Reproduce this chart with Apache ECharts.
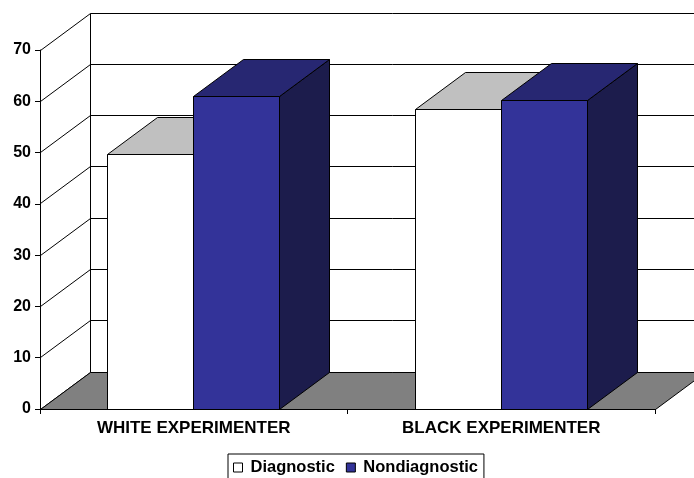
<!DOCTYPE html>
<html>
<head>
<meta charset="utf-8">
<script src="https://cdn.jsdelivr.net/npm/echarts@6/dist/echarts.min.js"></script>
<style>
  html, body { margin: 0; padding: 0; background: #fff; }
  #chart { width: 694px; height: 478px; }
</style>
</head>
<body>
<div id="chart"></div>
<script>
// Chart data
const categories = ['WHITE EXPERIMENTER', 'BLACK EXPERIMENTER'];
const diagnostic = [49.6, 58.4];
const nondiagnostic = [60.9, 60.1];
const yTicks = [0, 10, 20, 30, 40, 50, 60, 70];

// Oblique 3D look: depth offset of the back plane, in pixels
const DEPTH_X = 50;
const DEPTH_Y = -37;
const BAR_FRAC = 0.279;            // bar width as a share of a category band
const FONT = '"Liberation Sans", Arial, sans-serif';

function crisp(v) { return Math.round(v - 0.5) + 0.5; }

// Walls, floor and back-wall gridlines
function renderWalls(params, api) {
  const band = api.size([1, 0])[0];
  const L = crisp(api.coord([0, 0])[0] - band / 2);
  const R = crisp(api.coord([categories.length - 1, 0])[0] + band / 2);
  const y0 = crisp(api.coord([0, 0])[1]);
  const yTop = crisp(api.coord([0, yTicks[yTicks.length - 1]])[1]);
  const line = { stroke: '#000', lineWidth: 1 };
  const children = [];
  // back wall gridlines and left wall diagonals
  yTicks.forEach(function (t) {
    const y = crisp(api.coord([0, t])[1]);
    children.push({ type: 'line', shape: { x1: L + DEPTH_X, y1: y + DEPTH_Y, x2: R + DEPTH_X, y2: y + DEPTH_Y }, style: line });
    children.push({ type: 'line', shape: { x1: L, y1: y, x2: L + DEPTH_X, y2: y + DEPTH_Y }, style: line });
  });
  // back corner verticals
  children.push({ type: 'line', shape: { x1: L + DEPTH_X, y1: yTop + DEPTH_Y, x2: L + DEPTH_X, y2: y0 + DEPTH_Y }, style: line });
  children.push({ type: 'line', shape: { x1: R + DEPTH_X, y1: yTop + DEPTH_Y, x2: R + DEPTH_X, y2: y0 + DEPTH_Y }, style: line });
  // floor
  children.push({
    type: 'polygon',
    shape: { points: [[L, y0], [R, y0], [R + DEPTH_X, y0 + DEPTH_Y], [L + DEPTH_X, y0 + DEPTH_Y]] },
    style: { fill: '#808080', stroke: '#000', lineWidth: 1 }
  });
  return { type: 'group', children: children };
}

// A 3D box for one bar; side 0 sits left of the category centre, side 1 right
function boxRenderer(side, colors) {
  return function (params, api) {
    const cat = api.value(0);
    const v = api.value(1);
    const band = api.size([1, 0])[0];
    const w = band * BAR_FRAC;
    const c = api.coord([cat, v]);
    const b = api.coord([cat, 0]);
    const x0 = crisp(side === 0 ? c[0] - w : c[0]);
    const x1 = crisp(side === 0 ? c[0] : c[0] + w);
    const yt = crisp(c[1]);
    const yb = crisp(b[1]);
    const dx = DEPTH_X, dy = DEPTH_Y;
    const edge = { stroke: '#000', lineWidth: 1 };
    return {
      type: 'group',
      children: [
        { type: 'polygon', shape: { points: [[x1, yb], [x1 + dx, yb + dy], [x1 + dx, yt + dy], [x1, yt]] },
          style: Object.assign({ fill: colors.side }, edge) },
        { type: 'polygon', shape: { points: [[x0, yt], [x1, yt], [x1 + dx, yt + dy], [x0 + dx, yt + dy]] },
          style: Object.assign({ fill: colors.top }, edge) },
        { type: 'rect', shape: { x: x0, y: yt, width: x1 - x0, height: yb - yt },
          style: Object.assign({ fill: colors.front }, edge) }
      ]
    };
  };
}

const chart = echarts.init(document.getElementById('chart'), null, { renderer: 'canvas' });

chart.setOption({
  animation: false,
  backgroundColor: '#fff',
  grid: { left: 40, right: 39, top: 50, bottom: 69, containLabel: false },
  legend: {
    left: 228,
    top: 454,
    orient: 'horizontal',
    borderColor: '#000',
    borderWidth: 1,
    padding: [5, 6, 8, 5],
    itemWidth: 9,
    itemHeight: 9,
    itemGap: 11,
    icon: 'rect',
    textStyle: { fontFamily: FONT, fontWeight: 'bold', fontSize: 16.5, color: '#000', padding: [0, 0, 0, 3] },
    data: [
      { name: 'Diagnostic', itemStyle: { color: '#fff', borderColor: '#000', borderWidth: 1 } },
      { name: 'Nondiagnostic', itemStyle: { color: '#333399', borderColor: '#000', borderWidth: 1 } }
    ]
  },
  xAxis: {
    type: 'category',
    data: categories,
    boundaryGap: true,
    z: 5,
    axisLine: { show: true, lineStyle: { color: '#000', width: 1 } },
    axisTick: { show: true, length: 5, lineStyle: { color: '#000' } },
    axisLabel: { fontFamily: FONT, fontWeight: 'bold', fontSize: 17, color: '#000', margin: 11 },
    splitLine: { show: false }
  },
  yAxis: {
    type: 'value',
    min: 0,
    max: 70,
    interval: 10,
    z: 5,
    axisLine: { show: true, lineStyle: { color: '#000', width: 1 } },
    axisTick: { show: true, length: 5, lineStyle: { color: '#000' } },
    axisLabel: { fontFamily: FONT, fontWeight: 'bold', fontSize: 16, color: '#000', margin: 9 },
    splitLine: { show: false }
  },
  series: [
    {
      type: 'custom',
      silent: true,
      clip: false,
      z: 1,
      renderItem: renderWalls,
      encode: { x: 0, y: 1 },
      data: [[0, 0]]
    },
    {
      name: 'Diagnostic',
      type: 'custom',
      clip: false,
      z: 2,
      itemStyle: { color: '#fff', borderColor: '#000', borderWidth: 1 },
      renderItem: boxRenderer(0, { front: '#ffffff', top: '#c0c0c0', side: '#909090' }),
      encode: { x: 0, y: 1 },
      data: diagnostic.map(function (v, i) { return [i, v]; })
    },
    {
      name: 'Nondiagnostic',
      type: 'custom',
      clip: false,
      z: 3,
      itemStyle: { color: '#333399', borderColor: '#000', borderWidth: 1 },
      renderItem: boxRenderer(1, { front: '#333399', top: '#272772', side: '#1c1c4c' }),
      encode: { x: 0, y: 1 },
      data: nondiagnostic.map(function (v, i) { return [i, v]; })
    }
  ]
});
</script>
</body>
</html>
